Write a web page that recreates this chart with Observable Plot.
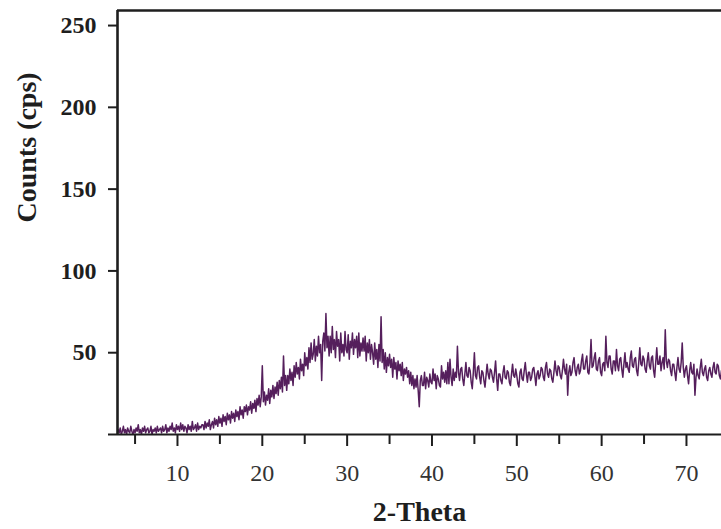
<!DOCTYPE html>
<html>
<head>
<meta charset="utf-8">
<script src="https://cdn.jsdelivr.net/npm/d3@7"></script>
<script src="https://cdn.jsdelivr.net/npm/@observablehq/plot@0.6"></script>
<style>
  html, body { margin: 0; padding: 0; background: #fff; }
</style>
</head>
<body>
<div id="chart"></div>
<script>
// Scan: 2-theta start and step (degrees)
const scanStart = 3.0;
const scanStep = 0.125;
// Counts (cps), one value per step
const counts = [
  3,1,4,0,2,5,1,3,0,4,2,1,5,2,0,3,1,4,2,6,1,3,0,4,2,5,1,3,4,1,2,5,0,3,2,4,1,5,2,3,
  4,1,5,2,3,6,1,4,2,5,3,7,2,4,1,6,3,5,2,7,3,6,2,5,4,1,6,3,5,2,8,3,4,6,2,7,3,5,4,6,
  6,3,8,4,7,5,9,3,6,8,4,10,6,9,5,11,7,10,5,12,8,11,6,13,9,12,7,14,10,13,8,15,11,14,9,17,12,15,10,17,
  14,18,12,17,15,20,13,19,16,21,14,22,18,24,17,23,42,20,26,18,24,21,28,19,27,23,30,22,29,25,32,24,33,28,35,26,48,30,36,27,
  36,31,40,33,38,30,42,35,44,37,41,34,46,39,43,36,50,42,47,40,53,44,56,46,49,58,45,54,48,60,50,55,33,57,62,51,74,53,60,48,
  60,50,66,52,58,47,63,54,58,45,62,50,55,48,63,52,50,61,46,57,53,62,49,58,53,60,47,62,48,56,51,59,51,60,45,56,50,58,46,55,
  50,43,56,46,52,41,55,45,72,44,52,40,50,38,47,42,49,41,46,35,47,40,44,34,45,39,43,36,44,33,40,37,41,35,39,31,38,30,36,28,
  34,29,36,27,17,33,36,30,30,38,28,35,33,29,37,32,31,40,33,37,28,36,34,30,29,42,34,38,32,39,31,44,31,46,35,30,40,33,38,35,
  54,38,33,40,41,34,30,37,44,36,35,41,39,32,28,38,50,36,34,41,42,35,31,39,38,33,29,36,43,37,34,40,39,35,32,38,45,34,27,37,
  37,33,31,38,42,35,34,39,38,32,30,37,43,36,35,40,36,31,29,38,40,34,33,39,44,37,32,38,38,33,35,40,41,36,30,37,39,34,36,41,
  40,35,33,41,44,37,35,40,39,34,32,38,45,39,36,42,41,36,34,39,46,40,37,43,24,38,42,36,38,44,47,39,36,41,43,37,39,45,49,40,
  40,45,48,38,37,44,58,41,42,47,50,40,39,45,47,38,36,43,44,39,60,44,41,48,48,40,37,45,45,39,52,42,39,46,47,40,35,43,50,41,
  44,40,38,47,51,42,41,46,47,39,36,44,53,43,42,48,46,40,38,45,50,42,40,47,48,39,35,44,53,43,43,48,39,44,47,40,64,45,41,46,
  45,39,36,43,43,38,33,41,47,40,38,44,56,41,35,40,42,36,31,39,44,38,37,43,24,35,40,36,34,41,46,38,36,40,42,35,33,39,41,37,
  35,41,44,38,37,43,42,36,34,39,40,35
];
const xTicks = [10, 20, 30, 40, 50, 60, 70];
const xMinorTicks = [5, 15, 25, 35, 45, 55, 65];
const yTicks = [0, 50, 100, 150, 200, 250];
const xLabel = "2-Theta";
const yLabel = "Counts (cps)";

const data = counts.map((c, i) => ({theta: scanStart + i * scanStep, cps: c}));

const font = "'Liberation Serif', 'Times New Roman', serif";
const ink = "#1e1e1e";

const chart = Plot.plot({
  width: 721,
  height: 529,
  marginLeft: 117,
  marginTop: 10,
  marginBottom: 95,
  marginRight: 0,
  style: {fontFamily: font, background: "#fff", color: ink, overflow: "visible"},
  x: {domain: [2.93, 74.13]},
  y: {domain: [0, 259.2]},
  marks: [
    Plot.line(data, {x: "theta", y: "cps", stroke: "#470c4e", strokeWidth: 1.5, strokeOpacity: 0.92, clip: true}),
    Plot.ruleY([259.2], {stroke: ink, strokeWidth: 2.6}),
    Plot.ruleX([2.93], {stroke: ink, strokeWidth: 2.6}),
    Plot.ruleY([0], {stroke: ink, strokeWidth: 2.2}),
    Plot.axisY(yTicks, {
      tickSize: 9, tickPadding: 12, strokeWidth: 2, stroke: ink,
      tickFormat: d => d === 0 ? "" : String(d),
      fontSize: 24, fontWeight: "bold", fill: ink, label: null
    }),
    Plot.axisX(xTicks, {
      tickSize: 12, tickPadding: 17, strokeWidth: 2, stroke: ink,
      fontSize: 24, fill: "#333", label: null
    }),
    Plot.axisX(xMinorTicks, {
      tickSize: 10, strokeWidth: 2, stroke: ink, tickFormat: () => "", label: null
    }),
    Plot.text([xLabel], {
      frameAnchor: "bottom", dy: 78, fontSize: 28, fontWeight: "bold", fill: ink,
      lineAnchor: "middle", text: d => d
    }),
    Plot.text([yLabel], {
      frameAnchor: "left", dx: -90, rotate: -90, fontSize: 28, fontWeight: "bold", fill: ink,
      lineAnchor: "middle", text: d => d
    })
  ]
});

document.getElementById("chart").appendChild(chart);
</script>
</body>
</html>
